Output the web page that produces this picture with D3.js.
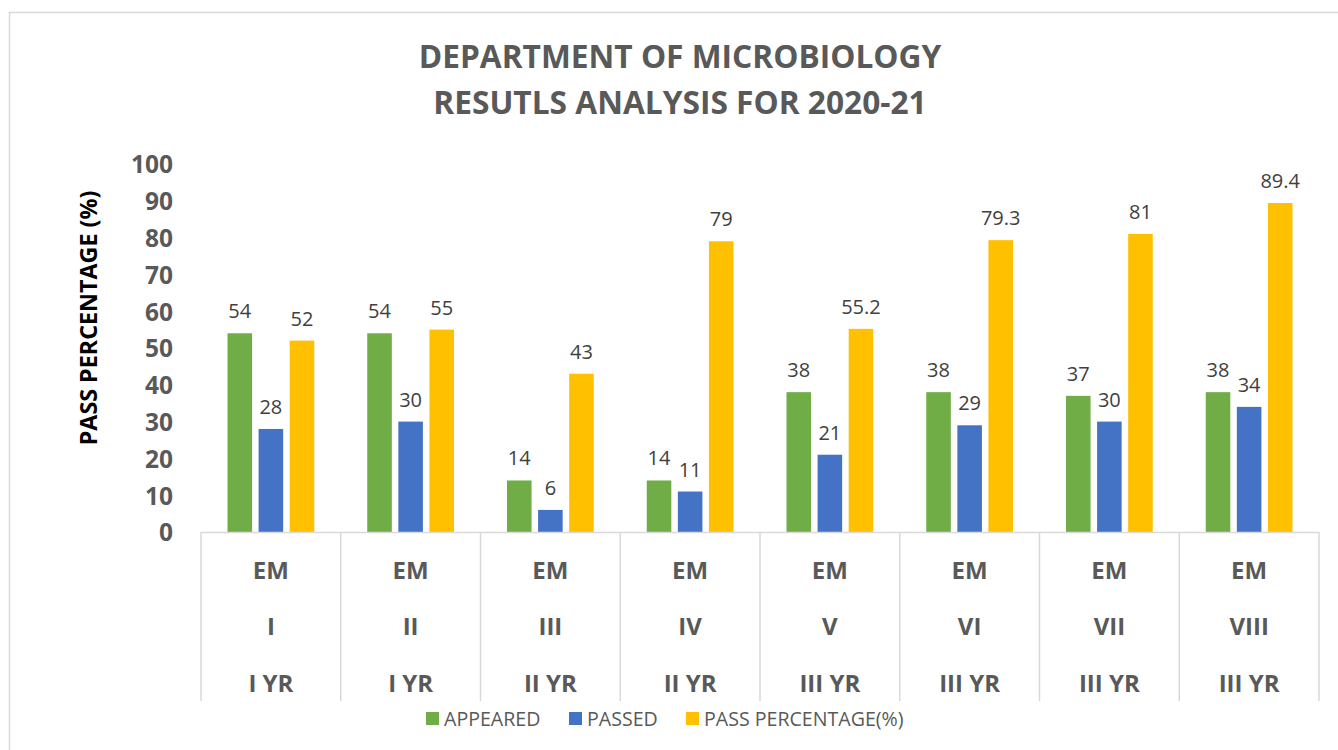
<!DOCTYPE html>
<html>
<head>
<meta charset="utf-8">
<script src="https://cdn.jsdelivr.net/npm/d3@7"></script>
<style>
  html, body { margin: 0; padding: 0; background: #fff; }
  svg { display: block; }
  text { font-family: "Open Sans", "Noto Sans", sans-serif; }
</style>
</head>
<body>
<svg id="chart" width="1338" height="750"></svg>
<script>
const titleLines = ["DEPARTMENT OF MICROBIOLOGY", "RESUTLS ANALYSIS FOR 2020-21"];
const yAxisTitle = "PASS PERCENTAGE (%)";
const catLevel1 = ["EM", "EM", "EM", "EM", "EM", "EM", "EM", "EM"];
const catLevel2 = ["I", "II", "III", "IV", "V", "VI", "VII", "VIII"];
const catLevel3 = ["I YR", "I YR", "II YR", "II YR", "III YR", "III YR", "III YR", "III YR"];
const seriesNames = ["APPEARED", "PASSED", "PASS PERCENTAGE(%)"];
const seriesColors = ["#70AD47", "#4472C4", "#FFC000"];
const appeared = [54, 54, 14, 14, 38, 38, 37, 38];
const passed = [28, 30, 6, 11, 21, 29, 30, 34];
const passPct = [52, 55, 43, 79, 55.2, 79.3, 81, 89.4];
const yTicks = [0, 10, 20, 30, 40, 50, 60, 70, 80, 90, 100];

const seriesValues = [appeared, passed, passPct];
const svg = d3.select("#chart");
const gray = "#595959";

// outer border
svg.append("rect").attr("x", 9.5).attr("y", 12.5).attr("width", 1400).attr("height", 800)
  .attr("fill", "none").attr("stroke", "#d9d9d9").attr("stroke-width", 1.5);

const plot = { left: 201, right: 1319, top: 164, bottom: 532 };
const idx = d3.range(catLevel2.length);
const x0 = d3.scaleBand().domain(idx).range([plot.left, plot.right]).padding(0);
const groupPad = 26.5;
const x1 = d3.scaleBand().domain(d3.range(seriesNames.length))
  .range([groupPad, x0.bandwidth() - groupPad]).paddingInner(0.21).paddingOuter(0);
const y = d3.scaleLinear().domain([0, 100]).range([plot.bottom, plot.top]);

// title
svg.append("g").selectAll("text").data(titleLines).join("text")
  .attr("x", 680).attr("y", (d, i) => 68 + i * 46)
  .attr("text-anchor", "middle").attr("font-size", 31.7).attr("font-weight", 700)
  .attr("fill", gray).text(d => d);

// y axis
const yAxis = d3.axisLeft(y).tickValues(yTicks).tickSize(0).tickPadding(0);
const yg = svg.append("g").attr("transform", `translate(173,0)`).call(yAxis);
yg.select(".domain").remove();
yg.selectAll("text").attr("font-size", 24.5).attr("font-weight", 700).attr("fill", gray)
  .attr("font-family", "'Open Sans', sans-serif").attr("dy", "0.36em");

svg.append("text").attr("transform", `translate(97,318) rotate(-90)`)
  .attr("text-anchor", "middle").attr("font-size", 23.3).attr("font-weight", 700)
  .attr("fill", "#000").text(yAxisTitle);

// bars
const groups = svg.append("g").selectAll("g").data(idx).join("g")
  .attr("transform", d => `translate(${x0(d)},0)`);
groups.selectAll("rect").data(i => seriesValues.map((s, k) => ({ k, v: s[i] }))).join("rect")
  .attr("x", d => x1(d.k)).attr("width", x1.bandwidth())
  .attr("y", d => y(d.v)).attr("height", d => y(0) - y(d.v))
  .attr("fill", d => seriesColors[d.k]);
groups.selectAll("text").data(i => seriesValues.map((s, k) => ({ k, v: s[i] }))).join("text")
  .attr("x", d => x1(d.k) + x1.bandwidth() / 2).attr("y", d => y(d.v) - 15)
  .attr("text-anchor", "middle").attr("font-size", 20).attr("fill", "#404040")
  .text(d => d.v);

// category axis
const axisCol = "#d9d9d9";
svg.append("line").attr("x1", plot.left).attr("x2", plot.right).attr("y1", plot.bottom + 0.5).attr("y2", plot.bottom + 0.5)
  .attr("stroke", axisCol).attr("stroke-width", 1.5);
svg.append("g").selectAll("line").data(d3.range(catLevel2.length + 1)).join("line")
  .attr("x1", d => d < catLevel2.length ? x0(d) : plot.right)
  .attr("x2", d => d < catLevel2.length ? x0(d) : plot.right)
  .attr("y1", plot.bottom).attr("y2", 701).attr("stroke", axisCol).attr("stroke-width", 1.5);
const levels = [catLevel1, catLevel2, catLevel3];
const levelY = [579, 635, 692];
levels.forEach((lv, li) => {
  svg.append("g").selectAll("text").data(idx).join("text")
    .attr("x", d => x0(d) + x0.bandwidth() / 2).attr("y", levelY[li])
    .attr("text-anchor", "middle").attr("font-size", 24).attr("font-weight", 700)
    .attr("fill", gray).text(d => lv[d]);
});

// legend
const legendX = [426, 569, 686];
const lg = svg.append("g").selectAll("g").data(seriesNames).join("g")
  .attr("transform", (d, i) => `translate(${legendX[i]},712)`);
lg.append("rect").attr("width", 13).attr("height", 13).attr("fill", (d, i) => seriesColors[i]);
lg.append("text").attr("x", 18).attr("y", 13.5).attr("font-size", 19.6).attr("fill", gray).text(d => d);
</script>
</body>
</html>
